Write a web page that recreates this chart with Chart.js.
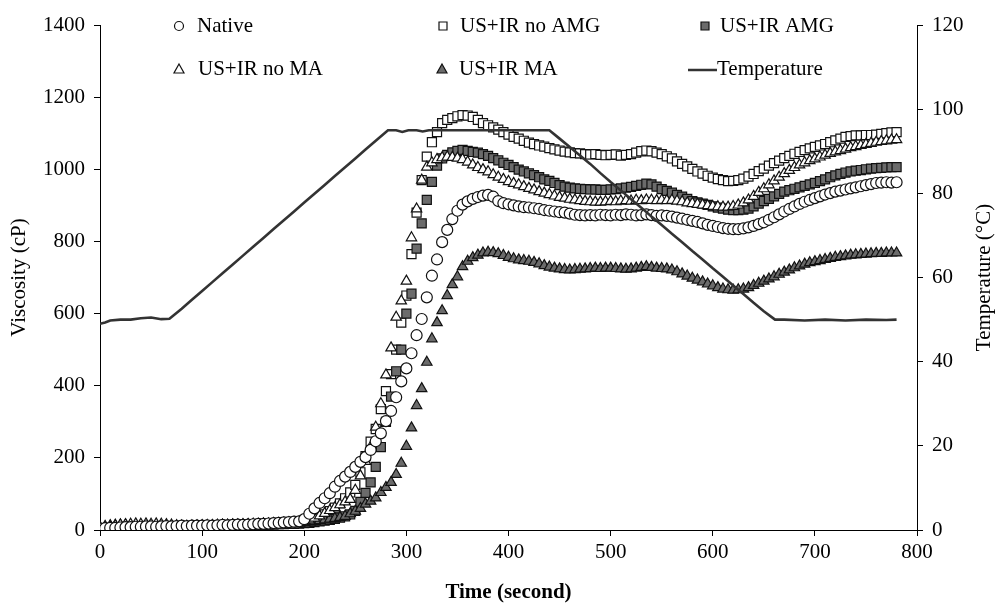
<!DOCTYPE html>
<html>
<head>
<meta charset="utf-8">
<script src="https://cdn.jsdelivr.net/npm/chart.js@4.4.1/dist/chart.umd.min.js"></script>
<style>
html,body{margin:0;padding:0;background:#fff;}
#wrap{width:995px;height:605px;position:relative;}
</style>
</head>
<body>
<div id="wrap"><canvas id="c"></canvas></div>
<script>
// ---- data (time in seconds, viscosity in cP, temperature in °C) ----
const timeS = [
0,5,10,15,20,25,30,35,40,45,
50,55,60,65,70,75,80,85,90,95,
100,105,110,115,120,125,130,135,140,145,
150,155,160,165,170,175,180,185,190,195,
200,205,210,215,220,225,230,235,240,245,
250,255,260,265,270,275,280,285,290,295,
300,305,310,315,320,325,330,335,340,345,
350,355,360,365,370,375,380,385,390,395,
400,405,410,415,420,425,430,435,440,445,
450,455,460,465,470,475,480,485,490,495,
500,505,510,515,520,525,530,535,540,545,
550,555,560,565,570,575,580,585,590,595,
600,605,610,615,620,625,630,635,640,645,
650,655,660,665,670,675,680,685,690,695,
700,705,710,715,720,725,730,735,740,745,
750,755,760,765,770,775,780];

const native = [
4,5,6,6,7,8,8,9,9,10,
10,9,10,11,10,11,12,11,12,12,
12,13,12,13,14,13,14,15,14,15,
16,17,17,18,19,20,21,22,23,24,
30,45,60,75,88,102,120,136,148,161,
175,189,202,222,246,268,302,330,368,412,
448,490,540,585,645,705,750,798,832,862,
885,902,911,918,923,927,929,924,912,906,
903,900,897,895,894,892,890,887,885,883,
881,880,877,874,873,872,873,872,874,873,
872,874,873,875,874,872,873,875,873,871,
872,871,869,866,863,860,857,854,850,846,
843,840,837,835,834,834,836,839,843,848,
853,860,867,875,883,890,897,904,910,915,
920,925,930,934,938,941,944,947,950,953,
956,959,962,963,964,963,964];

const usirNoAMG = [
3,4,5,5,6,6,7,7,8,8,
8,9,9,10,10,10,11,11,11,12,
12,12,13,13,13,14,14,14,15,15,
15,16,16,17,17,18,18,19,20,21,
23,26,30,36,43,52,62,74,88,104,
125,160,205,245,280,335,385,432,500,575,
650,765,880,970,1035,1075,1103,1128,1137,1142,
1147,1150,1149,1145,1137,1128,1122,1116,1110,1103,
1096,1090,1085,1079,1074,1070,1066,1063,1059,1055,
1052,1049,1047,1045,1044,1042,1041,1042,1040,1039,
1040,1041,1038,1040,1042,1046,1050,1052,1050,1046,
1042,1036,1030,1022,1015,1008,1001,994,988,982,
977,973,970,967,968,970,974,980,987,995,
1002,1010,1017,1024,1031,1037,1043,1048,1053,1058,
1062,1066,1070,1075,1080,1085,1090,1092,1094,1094,
1095,1095,1096,1098,1100,1102,1103];

const usirAMG = [
2,3,3,4,4,5,5,5,6,6,
6,7,7,7,8,8,8,9,9,9,
10,10,10,11,11,11,12,12,12,13,
13,14,14,15,15,16,16,17,17,18,
19,20,22,24,26,28,31,34,38,43,
53,78,103,132,175,230,300,370,440,500,
600,655,780,850,915,965,1010,1030,1040,1047,
1051,1054,1051,1048,1046,1042,1037,1031,1025,1018,
1012,1006,999,994,989,984,978,972,968,962,
956,952,949,947,946,945,944,944,943,943,
944,945,947,949,951,954,957,960,958,952,
945,940,935,929,924,918,912,908,905,901,
897,894,891,888,887,887,888,891,897,905,
912,918,925,932,938,942,946,950,954,958,
962,967,972,978,983,987,991,994,996,998,
1000,1002,1003,1004,1005,1006,1006];

const usirNoMA = [
5,7,9,12,14,15,16,17,16,17,
16,17,16,15,14,12,11,10,10,11,
11,12,12,12,13,13,14,14,15,15,
16,16,17,17,18,18,19,20,21,22,
24,28,33,39,46,54,62,70,78,85,
110,150,190,230,285,350,430,505,590,635,
690,810,890,970,1006,1018,1027,1032,1034,1033,
1031,1027,1020,1012,1005,999,993,985,978,972,
966,961,957,952,947,943,938,934,930,926,
922,920,917,915,913,911,910,909,909,910,
911,910,912,913,912,914,913,915,914,913,
914,913,914,912,910,907,905,903,901,899,
897,896,895,895,897,901,907,915,925,936,
946,957,968,978,988,997,1005,1012,1018,1024,
1029,1034,1039,1044,1048,1052,1056,1060,1063,1066,
1069,1072,1075,1077,1079,1081,1082];

const usirMA = [
8,10,12,13,14,14,13,12,13,12,
11,11,10,10,9,9,10,10,11,11,
12,12,12,13,13,13,14,14,14,15,
15,15,16,16,17,17,18,18,19,19,
20,22,24,26,28,30,32,35,38,45,
52,60,72,80,89,104,118,132,154,185,
232,283,345,392,465,530,575,608,650,680,
702,730,745,755,762,768,770,769,766,761,
756,752,749,747,745,742,738,733,729,726,
724,722,721,722,723,724,725,726,725,726,
726,725,724,723,724,726,728,730,728,726,
725,724,721,716,710,704,698,693,688,682,
677,672,668,666,665,666,668,672,678,684,
690,696,702,709,715,721,727,732,737,741,
744,747,750,753,756,758,760,762,763,764,
765,766,767,767,768,768,768];

const tempTime = [0,5,10,20,30,40,50,60,68,80,90,100,110,120,130,140,150,160,170,180,190,200,210,220,230,240,250,260,270,282,290,296,302,310,316,322,340,360,380,400,420,440,450,460,470,480,490,500,510,520,530,540,550,560,570,580,590,600,610,620,630,640,650,661,670,690,710,730,750,770,780];
const tempC = [49,49.3,49.8,50,50,50.3,50.5,50.1,50.2,52.6,54.7,56.8,58.9,61,63.1,65.2,67.3,69.4,71.5,73.6,75.7,77.8,79.9,82,84.1,86.2,88.3,90.4,92.5,95,95,94.6,95,95,94.7,95,95,95,95,95,95,95,93,91,89,87,84.8,82.7,80.7,78.6,76.6,74.5,72.5,70.4,68.4,66.3,64.3,62.2,60.2,58.1,56.1,54,52,50,50,49.8,50,49.8,50,49.9,50];

const xTicks = [0,100,200,300,400,500,600,700,800];
const viscTicks = [0,200,400,600,800,1000,1200,1400];
const tempTicks = [0,20,40,60,80,100,120];

// ---- build chart ----
const FONT = "'Liberation Serif','Times New Roman',serif";
const FS = 21;
const GRAY = '#6b6b6b';
const pts = arr => timeS.map((t,i)=>({x:t,y:arr[i]}));
const tempPts = tempTime.map((t,i)=>({x:t,y:tempC[i]}));

const markerDS = (label, arr, style, fill, r, order) => ({
  type:'scatter', label, data:pts(arr), yAxisID:'y', showLine:false,
  pointStyle:style, pointRadius:r, pointHoverRadius:r,
  pointBackgroundColor:fill, pointBorderColor:'#111', pointBorderWidth:1.2,
  order
});

const legendItems = [
  {text:'Native', style:'circle', fill:'#fff', mx:179, tx:197, y:26},
  {text:'US+IR no AMG', style:'rect', fill:'#fff', mx:443, tx:460, y:26},
  {text:'US+IR AMG', style:'rect', fill:GRAY, mx:705, tx:720, y:26},
  {text:'US+IR no MA', style:'triangle', fill:'#fff', mx:179, tx:198, y:69},
  {text:'US+IR MA', style:'triangle', fill:GRAY, mx:442, tx:459, y:69},
  {text:'Temperature', style:'line', fill:'#333', mx:703, tx:717, y:69}
];

const extras = {
  id:'extras',
  afterDraw(chart){
    const ctx = chart.ctx;
    ctx.save();
    ctx.font = FS + 'px ' + FONT;
    ctx.fillStyle = '#000';
    ctx.textBaseline = 'middle';
    ctx.textAlign = 'left';
    legendItems.forEach(it=>{
      ctx.lineWidth = 1.2;
      ctx.strokeStyle = '#111';
      ctx.fillStyle = it.fill;
      if (it.style === 'circle') {
        ctx.beginPath(); ctx.arc(it.mx, it.y, 4.5, 0, Math.PI*2); ctx.fill(); ctx.stroke();
      } else if (it.style === 'rect') {
        ctx.beginPath(); ctx.rect(it.mx-4, it.y-4, 8, 8); ctx.fill(); ctx.stroke();
      } else if (it.style === 'triangle') {
        ctx.beginPath(); ctx.moveTo(it.mx, it.y-5); ctx.lineTo(it.mx+5, it.y+4); ctx.lineTo(it.mx-5, it.y+4); ctx.closePath(); ctx.fill(); ctx.stroke();
      } else {
        ctx.strokeStyle = '#333'; ctx.lineWidth = 2.5;
        ctx.beginPath(); ctx.moveTo(it.mx-15, it.y+1); ctx.lineTo(it.tx, it.y+1); ctx.stroke();
      }
      ctx.fillStyle = '#000';
      ctx.fillText(it.text, it.tx, it.y);
    });
    // right axis title, reading bottom-to-top
    const ca = chart.chartArea;
    ctx.translate(984, (ca.top+ca.bottom)/2);
    ctx.rotate(-Math.PI/2);
    ctx.textAlign = 'center';
    ctx.fillText('Temperature (°C)', 0, 0);
    ctx.restore();
  }
};

const axisCommon = {
  grid:{drawOnChartArea:false, drawTicks:true, tickLength:6, color:'#000', lineWidth:1},
  border:{display:true, color:'#000', width:1}
};
const tickFont = {family:FONT, size:FS};
const plain = v => String(v);

new Chart(document.getElementById('c'), {
  data:{
    datasets:[
      {type:'line', label:'Temperature', data:tempPts, yAxisID:'y1', borderColor:'#333', borderWidth:2.6,
       pointRadius:0, tension:0, fill:false, order:0},
      markerDS('Native', native, 'circle', '#fff', 5.5, 1),
      markerDS('US+IR no MA', usirNoMA, 'triangle', '#fff', 6, 2),
      markerDS('US+IR MA', usirMA, 'triangle', GRAY, 6, 3),
      markerDS('US+IR AMG', usirAMG, 'rect', GRAY, 6.4, 4),
      markerDS('US+IR no AMG', usirNoAMG, 'rect', '#fff', 6.4, 5)
    ]
  },
  options:{
    responsive:true, maintainAspectRatio:false, animation:false,
    layout:{padding:{top:25, bottom:0, left:0, right:0}},
    plugins:{legend:{display:false}, tooltip:{enabled:false}},
    scales:{
      x:{type:'linear', position:'bottom', min:0, max:800, ...axisCommon,
         afterBuildTicks:s=>{s.ticks = xTicks.map(v=>({value:v}));},
         ticks:{color:'#000', font:tickFont, padding:4, maxRotation:0, callback:plain},
         title:{display:true, text:'Time (second)', color:'#000', font:{family:FONT, size:FS, weight:'bold'}, padding:{top:0,bottom:0}},
         afterFit:s=>{s.height = 75;}},
      y:{type:'linear', position:'left', min:0, max:1400, ...axisCommon,
         afterBuildTicks:s=>{s.ticks = viscTicks.map(v=>({value:v}));},
         ticks:{color:'#000', font:tickFont, padding:9, callback:plain},
         title:{display:true, text:'Viscosity (cP)', color:'#000', font:{family:FONT, size:FS}, padding:{top:7,bottom:0}},
         afterFit:s=>{s.width = 100;}},
      y1:{type:'linear', position:'right', min:0, max:120, ...axisCommon,
         afterBuildTicks:s=>{s.ticks = tempTicks.map(v=>({value:v}));},
         ticks:{color:'#000', font:tickFont, padding:9, callback:plain},
         afterFit:s=>{s.width = 78;}}
    }
  },
  plugins:[extras]
});
</script>
</body>
</html>
